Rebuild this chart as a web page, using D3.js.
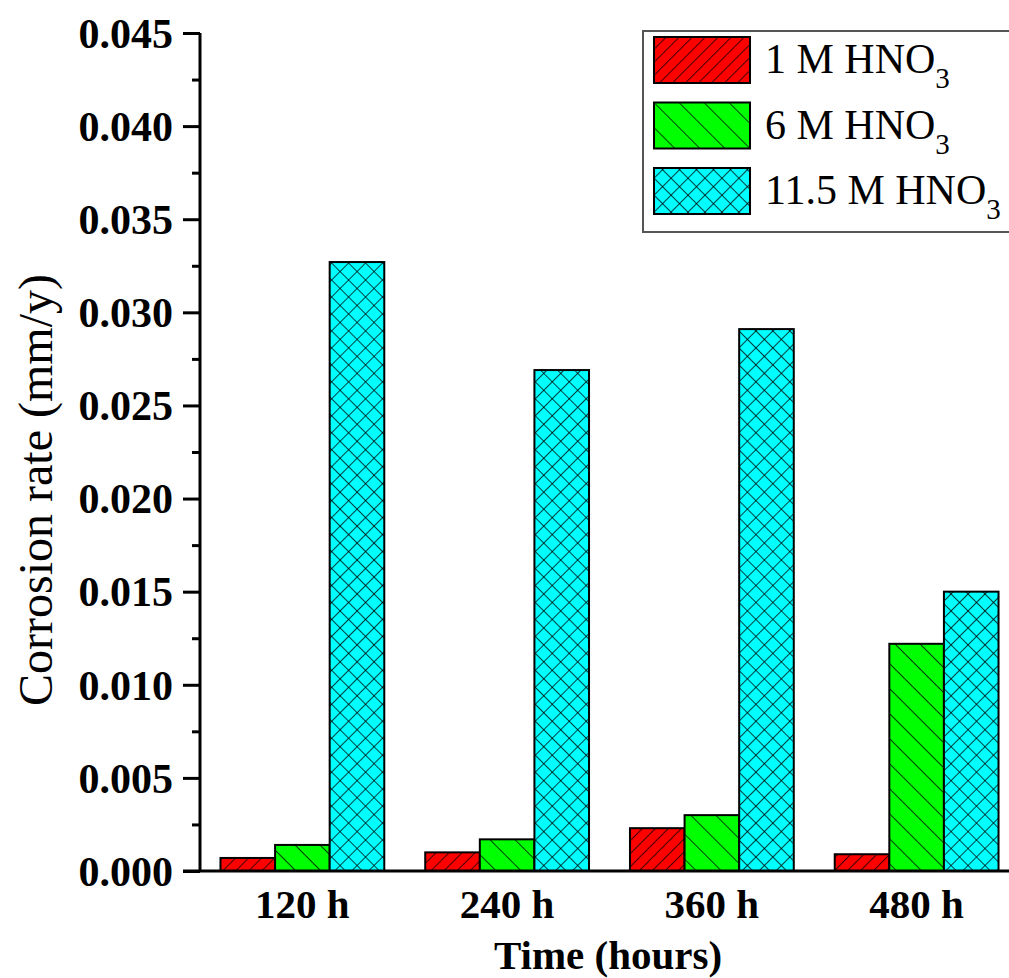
<!DOCTYPE html>
<html>
<head>
<meta charset="utf-8">
<script src="https://cdn.jsdelivr.net/npm/d3@7"></script>
<style>
  html, body { margin: 0; padding: 0; background: #fff; }
  svg { display: block; }
  text { font-family: "Liberation Serif", "Times New Roman", serif; fill: #000; }
</style>
</head>
<body>
<svg id="chart" width="1009" height="978" font-family="Liberation Serif"></svg>
<script>
// Corrosion rate by exposure time for three nitric acid concentrations
const times = ["120 h", "240 h", "360 h", "480 h"];
const seriesNames = ["1 M HNO", "6 M HNO", "11.5 M HNO"];
const rate1M   = [0.0007, 0.0010, 0.0023, 0.0009];
const rate6M   = [0.0014, 0.0017, 0.0030, 0.0122];
const rate115M = [0.0327, 0.0269, 0.0291, 0.0150];
const yTicks = [0, 0.005, 0.010, 0.015, 0.020, 0.025, 0.030, 0.035, 0.040, 0.045];
const fills = ["#ff0000", "#00ff00", "#00ffff"];

const seriesValues = [rate1M, rate6M, rate115M];
const serif = "Liberation Serif";

const svg = d3.select("#chart");
const plotLeft = 200, plotTop = 33, plotBottom = 871, plotRight = 1019;

const x = d3.scaleBand().domain(times).range([plotLeft, plotRight])
  .paddingInner(0.2).paddingOuter(0.1);
const xs = d3.scaleBand().domain(d3.range(3)).range([0, x.bandwidth()]);
const y = d3.scaleLinear().domain([0, 0.045]).range([plotBottom, plotTop]);

// hatch patterns
const defs = svg.append("defs");
function lineHatch(id, spacing, angle) {
  const p = defs.append("pattern").attr("id", id)
    .attr("patternUnits", "userSpaceOnUse")
    .attr("width", spacing).attr("height", spacing)
    .attr("patternTransform", `rotate(${angle})`);
  p.append("line").attr("x1", 0.5).attr("y1", 0).attr("x2", 0.5).attr("y2", spacing)
    .attr("stroke", "#000").attr("stroke-opacity", 0.75).attr("stroke-width", 1);
}
lineHatch("h-fwd", 9.2, 45);
lineHatch("h-back", 17.7, -45);
lineHatch("h-x1", 12, 45);
lineHatch("h-x2", 12, -45);
const hatchIds = [["h-fwd"], ["h-back"], ["h-x1", "h-x2"]];

// bars
times.forEach((t, i) => {
  seriesValues.forEach((vals, s) => {
    const bx = x(t) + xs(s), bw = xs.bandwidth();
    const by = y(vals[i]), bh = y(0) - y(vals[i]);
    const g = svg.append("g");
    g.append("rect").attr("x", bx).attr("y", by).attr("width", bw).attr("height", bh)
      .attr("fill", fills[s]);
    hatchIds[s].forEach(h => g.append("rect").attr("x", bx).attr("y", by)
      .attr("width", bw).attr("height", bh).attr("fill", `url(#${h})`));
    g.append("rect").attr("x", bx).attr("y", by).attr("width", bw).attr("height", bh)
      .attr("fill", "none").attr("stroke", "#000").attr("stroke-width", 2);
  });
});

// y axis
const minorTicks = d3.range(0.0025, 0.045, 0.005);
const yAxis = svg.append("g").attr("transform", `translate(${plotLeft},0)`)
  .call(d3.axisLeft(y).tickValues(yTicks).tickFormat(d3.format(".3f"))
    .tickSize(17).tickPadding(10));
yAxis.attr("font-family", serif);
yAxis.select(".domain").attr("stroke-width", 3).attr("d", `M0,${plotTop}V${plotBottom}`);
yAxis.selectAll(".tick line").attr("stroke-width", 3);
yAxis.selectAll(".tick text").attr("font-size", 42).attr("font-weight", "bold")
  .attr("font-family", serif).attr("dy", "0.34em");
svg.append("g").attr("transform", `translate(${plotLeft},0)`)
  .call(d3.axisLeft(y).tickValues(minorTicks).tickSize(8).tickFormat(""))
  .call(g => g.select(".domain").remove())
  .selectAll(".tick line").attr("stroke-width", 3);

// x axis
const xAxis = svg.append("g").attr("transform", `translate(0,${plotBottom})`)
  .call(d3.axisBottom(x).tickSize(0).tickPadding(18));
xAxis.attr("font-family", serif);
xAxis.select(".domain").attr("stroke-width", 3).attr("d", `M${plotLeft - 17},0H${plotRight}`);
xAxis.selectAll(".tick text").attr("font-size", 41).attr("font-weight", "bold")
  .attr("font-family", serif);

// axis titles
svg.append("text").attr("transform", `translate(52,${(plotTop + plotBottom) / 2 + 38}) rotate(-90)`)
  .attr("text-anchor", "middle").attr("font-size", 48).attr("font-family", serif)
  .text("Corrosion rate (mm/y)");
svg.append("text").attr("x", 608).attr("y", 969).attr("text-anchor", "middle")
  .attr("font-size", 41).attr("font-weight", "bold").attr("font-family", serif)
  .text("Time (hours)");

// legend
const legend = svg.append("g");
legend.append("rect").attr("x", 643).attr("y", 31).attr("width", 400).attr("height", 201)
  .attr("fill", "#fff").attr("stroke", "#555").attr("stroke-width", 2);
seriesNames.forEach((name, s) => {
  const ly = 37 + s * 65.5;
  const g = legend.append("g");
  g.append("rect").attr("x", 654).attr("y", ly).attr("width", 96).attr("height", 46)
    .attr("fill", fills[s]);
  hatchIds[s].forEach(h => g.append("rect").attr("x", 654).attr("y", ly)
    .attr("width", 96).attr("height", 46).attr("fill", `url(#${h})`));
  g.append("rect").attr("x", 654).attr("y", ly).attr("width", 96).attr("height", 46)
    .attr("fill", "none").attr("stroke", "#000").attr("stroke-width", 2);
  const t = g.append("text").attr("x", 765).attr("y", ly + 36).attr("font-size", 42)
    .attr("font-family", serif);
  t.append("tspan").text(name);
  t.append("tspan").attr("font-size", 29).attr("dy", 15).text("3");
});
</script>
</body>
</html>
